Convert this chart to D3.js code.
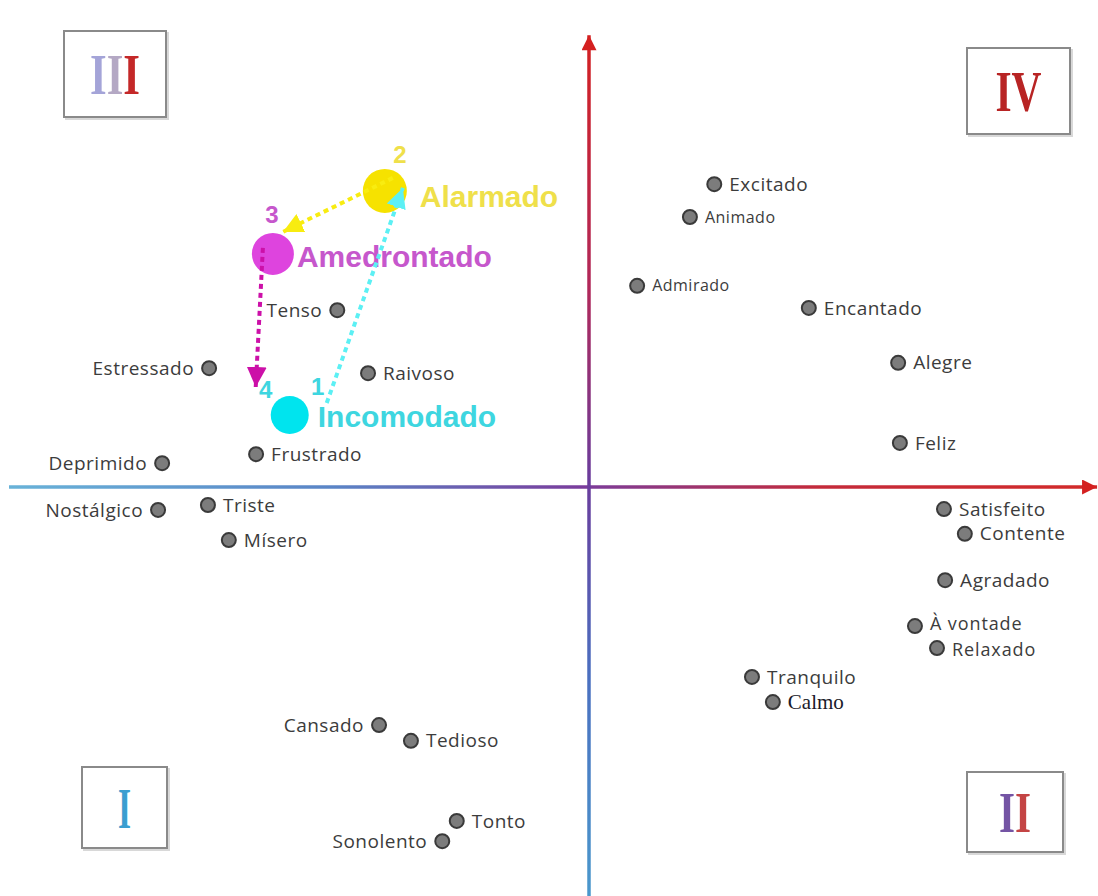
<!DOCTYPE html>
<html>
<head>
<meta charset="utf-8">
<script src="https://cdn.jsdelivr.net/npm/d3@7"></script>
<style>
  body { margin: 0; background: #fff; }
  svg { display: block; }
</style>
</head>
<body>
<div id="chart"></div>
<script>
// emotion words placed on valence (x) / arousal (y)
var emotions = ["Excitado", "Animado", "Admirado", "Encantado", "Alegre", "Feliz",
    "Satisfeito", "Contente", "Agradado", "À vontade", "Relaxado", "Tranquilo", "Calmo",
    "Cansado", "Tedioso", "Tonto", "Sonolento",
    "Tenso", "Estressado", "Raivoso", "Frustrado", "Deprimido", "Nostálgico", "Triste", "Mísero"];
var valence = [21.6, 17.4, 8.3, 37.9, 53.3, 53.6,
    61.2, 64.8, 61.4, 56.2, 60.0, 28.1, 31.7,
    -36.2, -30.7, -22.8, -25.3,
    -43.4, -65.5, -38.1, -57.4, -73.6, -74.3, -65.7, -62.1];
var arousal = [67.3, 60.0, 44.7, 39.8, 27.6, 9.8,
    -4.9, -10.4, -20.7, -30.9, -35.8, -42.2, -47.8,
    -52.9, -56.4, -74.2, -78.7,
    39.3, 26.4, 25.3, 7.3, 5.3, -5.1, -4.0, -11.8];

// highlighted states and the path between them
var stateNames = ["Incomodado", "Alarmado", "Amedrontado"];
var stateValence = [-51.6, -35.2, -54.5];
var stateArousal = [16.0, 65.8, 51.8];
var pathOrder = ["Incomodado", "Alarmado", "Amedrontado", "Incomodado"];

var quadrants = ["III", "IV", "I", "II"];

var width = 1098, height = 896;
var cx = 589, cy = 487;

var x = d3.scaleLinear().domain([-100, 100]).range([cx - 580, cx + 580]);
var y = d3.scaleLinear().domain([-100, 100]).range([cy + 450, cy - 450]);

var svg = d3.select("#chart").append("svg")
    .attr("width", width)
    .attr("height", height);

var defs = svg.append("defs");

var gh = defs.append("linearGradient").attr("id", "gh")
    .attr("gradientUnits", "userSpaceOnUse")
    .attr("x1", 10).attr("y1", 0).attr("x2", 1090).attr("y2", 0);
gh.append("stop").attr("offset", "0").attr("stop-color", "#68b2d8");
gh.append("stop").attr("offset", "0.3").attr("stop-color", "#5a84c6");
gh.append("stop").attr("offset", "0.53").attr("stop-color", "#7a3c9c");
gh.append("stop").attr("offset", "0.75").attr("stop-color", "#c42a3a");
gh.append("stop").attr("offset", "1").attr("stop-color", "#d22a2a");

var gv = defs.append("linearGradient").attr("id", "gv")
    .attr("gradientUnits", "userSpaceOnUse")
    .attr("x1", 0).attr("y1", 30).attr("x2", 0).attr("y2", 896);
gv.append("stop").attr("offset", "0").attr("stop-color", "#d42020");
gv.append("stop").attr("offset", "0.3").attr("stop-color", "#b0285a");
gv.append("stop").attr("offset", "0.52").attr("stop-color", "#6a3c9c");
gv.append("stop").attr("offset", "0.75").attr("stop-color", "#4a70c0");
gv.append("stop").attr("offset", "1").attr("stop-color", "#4a98cc");

function marker(id, color, w, h) {
    defs.append("marker").attr("id", id)
        .attr("viewBox", "0 0 10 10")
        .attr("refX", 10).attr("refY", 5)
        .attr("markerUnits", "userSpaceOnUse")
        .attr("markerWidth", w).attr("markerHeight", h)
        .attr("orient", "auto")
        .append("path").attr("d", "M0,0L10,5L0,10Z").attr("fill", color);
}
marker("ax-red", "#d42020", 18, 15);

// axes
svg.append("line")
    .attr("x1", x(-100)).attr("y1", y(0)).attr("x2", x(87.6)).attr("y2", y(0))
    .attr("stroke", "url(#gh)").attr("stroke-width", 3.5)
    .attr("marker-end", "url(#ax-red)");
svg.append("line")
    .attr("x1", x(0)).attr("y1", height).attr("x2", x(0)).attr("y2", y(100.4))
    .attr("stroke", "url(#gv)").attr("stroke-width", 3.5)
    .attr("marker-end", "url(#ax-red)");

// quadrant boxes
var boxes = [
    {x0: 64, y0: 31, w: 102, h: 86, tw: 50},
    {x0: 967, y0: 48, w: 103, h: 86, tw: 46},
    {x0: 82, y0: 767, w: 85, h: 81, tw: 13},
    {x0: 967, y0: 772, w: 96, h: 80, tw: 32}
];
var numeralColors = {
    "III": ["#a4a4d8", "#b4a8c4", "#c42828"],
    "IV": ["#b82424", "#b82424"],
    "I": ["#3a9ed0"],
    "II": ["#7454a4", "#c44444"]
};
quadrants.forEach(function(q, i) {
    var b = boxes[i];
    var cols = numeralColors[q];
    // hard-stop gradient gives each glyph its own colour in one text
    var grad = defs.append("linearGradient").attr("id", "num" + i)
        .attr("x1", 0).attr("y1", 0).attr("x2", 1).attr("y2", 0);
    cols.forEach(function(c, j) {
        grad.append("stop").attr("offset", j / cols.length).attr("stop-color", c);
        grad.append("stop").attr("offset", (j + 1) / cols.length).attr("stop-color", c);
    });
    var g = svg.append("g");
    g.append("rect")
        .attr("x", b.x0 + 2).attr("y", b.y0 + 2)
        .attr("width", b.w).attr("height", b.h)
        .attr("fill", "none").attr("stroke", "#d8d8d8").attr("stroke-width", 2);
    g.append("rect")
        .attr("x", b.x0).attr("y", b.y0)
        .attr("width", b.w).attr("height", b.h)
        .attr("fill", "#fff").attr("stroke", "#8a8a8a").attr("stroke-width", 2);
    g.append("text")
        .attr("x", b.x0 + b.w / 2 - b.tw / 2).attr("y", b.y0 + b.h / 2 + 20)
        .attr("font-family", "Liberation Serif, serif")
        .attr("font-weight", "bold")
        .attr("font-size", 58)
        .attr("textLength", b.tw)
        .attr("lengthAdjust", "spacingAndGlyphs")
        .attr("fill", "url(#num" + i + ")")
        .text(q);
});

// emotion points
var leftLabel = ["Tenso", "Estressado", "Deprimido", "Nostálgico", "Cansado", "Sonolento"];
var smallLabel = ["Animado", "Admirado"];
var labelNudge = {"À vontade": -2, "Relaxado": 2};

var node = svg.selectAll(".node")
    .data(emotions)
    .enter()
    .append("g")
    .attr("class", "node")
    .attr("transform", function(d, i) {
        return "translate(" + x(valence[i]) + "," + y(arousal[i]) + ")";
    });

node.append("circle")
    .attr("r", 7)
    .attr("fill", "#7c7c7c")
    .attr("stroke", "#3a3a3a")
    .attr("stroke-width", 2);

node.append("text")
    .attr("x", function(d) { return leftLabel.indexOf(d) >= 0 ? -15 : 15; })
    .attr("y", function(d) { return labelNudge[d] || 0; })
    .attr("dy", "0.35em")
    .attr("text-anchor", function(d) { return leftLabel.indexOf(d) >= 0 ? "end" : "start"; })
    .attr("font-family", function(d) { return d === "Calmo" ? "Liberation Serif, serif" : "Open Sans, sans-serif"; })
    .attr("font-size", function(d) {
        if (smallLabel.indexOf(d) >= 0) return 16;
        if (d === "Calmo") return 21;
        if (labelNudge[d]) return 18;
        return 19;
    })
    .attr("letter-spacing", function(d) { return d === "Calmo" ? 0 : (labelNudge[d] ? 0.9 : 0.5); })
    .attr("fill", function(d) { return d === "Calmo" ? "#1a1a2a" : "#3c3c3c"; })
    .text(function(d) { return d; });

// highlighted path
var stateColors = {"Incomodado": "#00e4ee", "Alarmado": "#f6e200", "Amedrontado": "#de44de"};
var stateText = {"Incomodado": "#3ed6e0", "Alarmado": "#efe04a", "Amedrontado": "#c657cc"};
var arrowColors = ["#5cf0f4", "#f8ec10", "#cc10a8"];
var stateR = {"Incomodado": 19, "Alarmado": 22, "Amedrontado": 21};
var labelGap = {"Incomodado": 9, "Alarmado": 13, "Amedrontado": 3};
var labelDrop = {"Incomodado": 12, "Alarmado": 16, "Amedrontado": 13};

function pos(name) {
    var i = stateNames.indexOf(name);
    return [x(stateValence[i]), y(stateArousal[i])];
}

stateNames.forEach(function(n) {
    var p = pos(n);
    svg.append("circle")
        .attr("cx", p[0]).attr("cy", p[1]).attr("r", stateR[n])
        .attr("fill", stateColors[n]);
    svg.append("text")
        .attr("x", p[0] + stateR[n] + labelGap[n]).attr("y", p[1] + labelDrop[n])
        .attr("font-family", "Liberation Sans, Arial, sans-serif")
        .attr("font-weight", "bold")
        .attr("font-size", 30)
        .attr("fill", stateText[n])
        .text(n);
});

// arrow offsets from the circle centres (start, end)
var arrowOffsets = [
    [[37, -12], [18, -3]],
    [[8, -13], [10, -22]],
    [[-10, -6], [-34, -28]]
];
for (var k = 0; k < pathOrder.length - 1; k++) {
    var a = pos(pathOrder[k]), b = pos(pathOrder[k + 1]);
    marker("arr" + k, arrowColors[k], 20, 20);
    svg.append("line")
        .attr("x1", a[0] + arrowOffsets[k][0][0]).attr("y1", a[1] + arrowOffsets[k][0][1])
        .attr("x2", b[0] + arrowOffsets[k][1][0]).attr("y2", b[1] + arrowOffsets[k][1][1])
        .attr("stroke", arrowColors[k])
        .attr("stroke-width", 4)
        .attr("stroke-dasharray", "5,4")
        .attr("marker-end", "url(#arr" + k + ")");
}

// step numbers
var stepOffsets = [[28, -30], [15, -38], [-1, -41], [-24, -27]];
pathOrder.forEach(function(n, k) {
    var p = pos(n);
    svg.append("text")
        .attr("x", p[0] + stepOffsets[k][0]).attr("y", p[1] + stepOffsets[k][1] + 10)
        .attr("text-anchor", "middle")
        .attr("font-family", "Liberation Sans, Arial, sans-serif")
        .attr("font-weight", "bold")
        .attr("font-size", 24)
        .attr("fill", stateText[n])
        .text(k + 1);
});
</script>
</body>
</html>
